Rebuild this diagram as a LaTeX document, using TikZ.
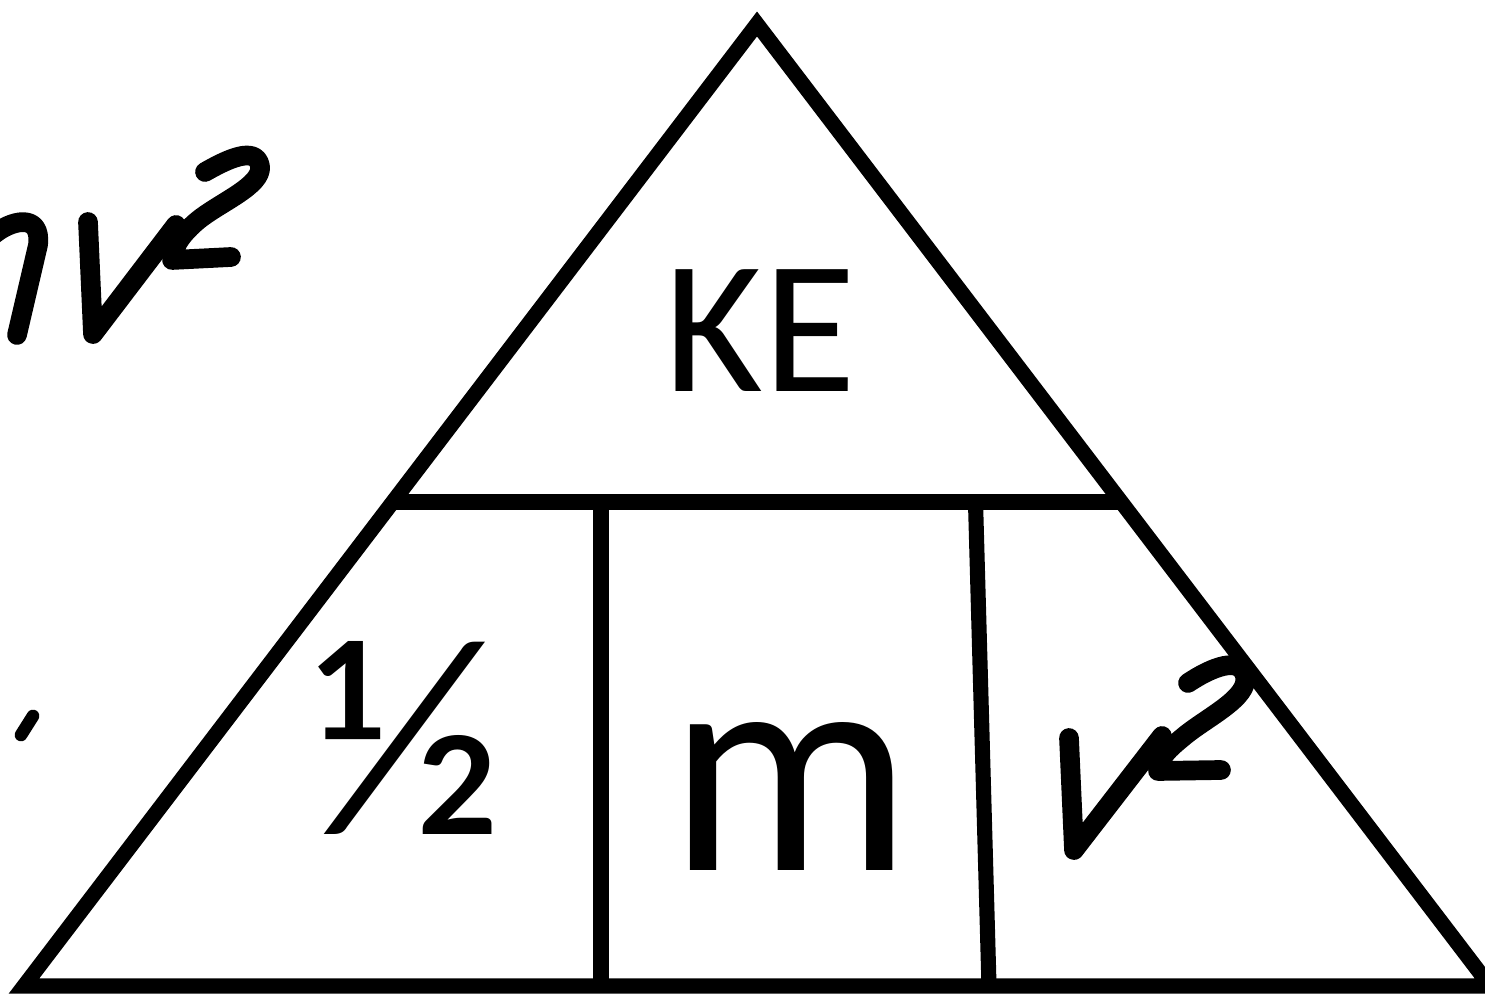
\documentclass[tikz,border=0pt]{standalone}
\usepackage{fontspec}
\setmainfont{Carlito}
\begin{document}
\begin{tikzpicture}[x=0.01cm,y=-0.01cm,
  frame/.style={line width=4.3pt,line join=miter},
  hand/.style={line width=5.6pt,line cap=round,line join=round},
  big/.style={inner sep=0pt,anchor=base,font=\fontsize{86.8}{87}\selectfont},
  frac/.style={inner sep=0pt,anchor=base,font=\fontsize{81}{81}\selectfont},
  mid/.style={inner sep=0pt,anchor=base,font=\fontsize{54}{54}\selectfont}]
\useasboundingbox (0,0) rectangle (1485,995);
\clip (0,0) rectangle (1485,995);
% triangle
\coordinate (A) at (757,24);
\coordinate (B) at (24,986);
\coordinate (C) at (1490,986);
\coordinate (L) at (393,502);
\coordinate (R) at (1121,502);
\coordinate (P1) at (601,502);
\coordinate (Q1) at (601,986);
\coordinate (P2) at (975.5,502);
\coordinate (Q2) at (989,986);
\draw[frame] (A) -- (B) -- (C) -- cycle;
\draw[frame] (L) -- (R);
\draw[frame] (P1) -- (Q1);
\draw[frame] (P2) -- (Q2);
% labels
\node[mid] (ke) at (760,392) {KE};
\node[frac] (half) at (408,835) {½};
\node[big] (m) at (790,870) {m};
% handwritten v^2 inside
\draw[hand] (1069,738) -- (1074,850) -- (1162,736);
\draw[hand] (1188,683) .. controls (1212,667) and (1240,656) .. (1245,676)
  .. controls (1250,698) and (1205,718) .. (1182,738)
  .. controls (1166,751) and (1158,760) .. (1158,771) -- (1221,770);
% handwritten partial mv^2 at top left
\draw[hand] (-8,236) .. controls (10,220) and (42,212) .. (38,245) -- (17,335);
\draw[hand] (88,222) -- (93,334) -- (176,225);
\draw[hand] (205,172) .. controls (226,160) and (256,145) .. (260,166)
  .. controls (263,186) and (218,203) .. (196,222)
  .. controls (180,236) and (173,248) .. (172,260) -- (231,257);
% small mark
\draw[line width=3.6pt,line cap=round] (33,716) -- (21,735);
\end{tikzpicture}
\end{document}
